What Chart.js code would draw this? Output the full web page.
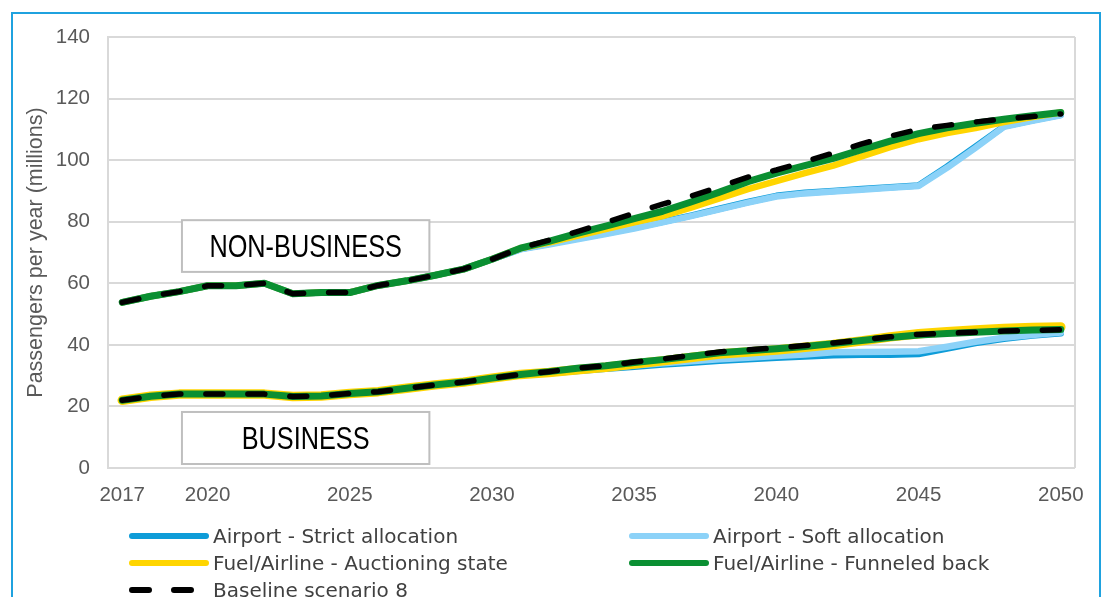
<!DOCTYPE html>
<html>
<head>
<meta charset="utf-8">
<script src="https://cdn.jsdelivr.net/npm/chart.js@4/dist/chart.umd.min.js"></script>
<style>
html,body{margin:0;padding:0;background:#fff;width:1108px;height:597px;overflow:hidden;}
#frame{position:absolute;left:11px;top:12px;width:1090px;height:640px;border:2px solid #1FA2DF;box-sizing:border-box;}
#wrap{position:absolute;left:0;top:0;width:1108px;height:597px;}
#legend{position:absolute;left:0;top:0;width:1108px;height:597px;pointer-events:none;font-family:"DejaVu Sans",sans-serif;font-size:20px;color:#404040;}
.item{position:absolute;display:flex;align-items:center;height:26px;white-space:nowrap;}
.item canvas{display:block;margin-right:4px;}
</style>
</head>
<body>
<div id="frame"></div>
<div id="wrap"><canvas id="c"></canvas></div>
<div id="legend"></div>
<script>
// ---------- DATA ----------
const years = [2017,2018,2019,2020,2021,2022,2023,2024,2025,2026,2027,2028,2029,2030,2031,2032,2033,2034,2035,2036,2037,2038,2039,2040,2041,2042,2043,2044,2045,2046,2047,2048,2049,2050];
const tickYears = [2017,2020,2025,2030,2035,2040,2045,2050];
const seriesNames = ["Airport - Strict allocation","Airport - Soft allocation","Fuel/Airline - Auctioning state","Fuel/Airline - Funneled back","Baseline scenario 8"];
const groupLabels = ["NON-BUSINESS","BUSINESS"];

// Non-business passengers (millions)
const nbStrict   = [53.8,55.8,57.3,59.2,59.2,60.0,56.6,57.0,57.0,59.3,60.8,62.6,64.6,67.8,71.1,72.8,74.5,76.2,78.0,80.0,82.0,84.2,86.4,88.4,89.4,90.0,90.6,91.2,91.8,97.9,104.4,111.0,112.9,114.7];
const nbSoft     = [53.8,55.8,57.3,59.2,59.2,60.0,56.6,57.0,57.0,59.3,60.8,62.6,64.6,67.8,71.0,72.6,74.3,76.0,77.8,79.8,81.8,84.0,86.2,88.2,89.2,89.8,90.4,91.0,91.6,97.5,104.0,110.8,112.8,114.6];
const nbAuction  = [53.8,55.8,57.3,59.2,59.2,60.0,56.6,57.0,57.0,59.3,60.8,62.6,64.6,67.8,71.4,73.2,75.4,77.6,79.8,81.8,84.6,87.6,90.6,93.2,95.8,98.2,101.2,104.2,106.8,108.8,110.4,112.4,114.0,115.5];
const nbFunnel   = [53.8,55.8,57.3,59.2,59.2,60.0,56.6,57.0,57.0,59.3,60.8,62.6,64.6,67.8,71.4,73.6,76.2,78.6,81.0,83.4,86.4,89.6,93.0,95.8,98.2,100.6,103.4,106.2,108.6,110.5,112.0,113.3,114.4,115.5];
const nbBaseline = [53.8,55.8,57.3,59.2,59.2,60.0,56.6,57.0,57.0,59.3,60.8,62.6,64.6,67.8,71.4,74.0,76.8,79.7,82.8,85.7,88.3,91.3,94.5,96.8,99.5,102.3,105.3,107.8,110.0,111.3,112.4,113.4,114.2,115.0];

// Business passengers (millions)
const bStrict    = [22.0,23.3,24.0,24.0,24.0,24.0,23.2,23.4,24.2,24.8,25.9,27.0,27.9,29.2,30.4,30.8,31.5,32.2,32.9,33.6,34.2,34.8,35.3,35.8,36.2,36.6,36.8,36.8,37.0,38.8,40.6,42.0,43.0,43.8];
const bSoft      = [22.0,23.3,24.0,24.0,24.0,24.0,23.2,23.4,24.2,24.8,25.9,27.0,27.9,29.2,30.4,31.0,31.8,32.5,33.3,34.0,34.7,35.3,35.8,36.4,36.9,37.6,37.7,37.8,37.9,39.4,41.0,42.3,43.2,44.0];
const bAuction   = [22.0,23.3,24.0,24.0,24.0,24.0,23.2,23.4,24.2,24.8,25.9,27.0,27.9,29.2,30.4,31.0,31.9,32.7,33.8,34.8,35.9,37.0,37.7,38.3,39.2,40.1,41.3,42.6,43.6,44.3,44.8,45.3,45.6,45.8];
const bFunnel    = [22.0,23.3,24.0,24.0,24.0,24.0,23.2,23.4,24.2,24.8,25.9,27.0,27.9,29.2,30.4,31.3,32.4,33.2,34.3,35.2,36.3,37.4,38.1,38.7,39.5,40.4,41.4,42.4,43.2,43.7,44.1,44.5,44.8,45.0];
const bBaseline  = [22.0,23.3,24.0,24.0,24.0,24.0,23.2,23.4,24.2,24.8,25.9,27.0,27.9,29.2,30.4,31.3,32.4,33.2,34.4,35.4,36.6,37.7,38.4,39.0,39.8,40.6,41.6,42.6,43.4,43.8,44.1,44.5,44.7,44.9];

// ---------- STYLES ----------
const colors = ["#0E9CD8","#8CD2F8","#FFD500","#0A8F32","#000000"];
const widthsNB = [6.5,6.5,6.5,7,5.5];
const widthsB  = [6.5,6.5,9.5,7,5.5];
const drawOrder = [4,3,2,1,0];
const dashes = [[],[],[],[],[17,25]];

const nbSeries = [nbStrict,nbSoft,nbAuction,nbFunnel,nbBaseline];
const bSeries  = [bStrict,bSoft,bAuction,bFunnel,bBaseline];

function makeDs(arr, idx, widths, group){
  return {
    label: seriesNames[idx],
    group: group,
    data: arr,
    borderColor: colors[idx],
    backgroundColor: colors[idx],
    borderWidth: widths[idx],
    borderDash: dashes[idx],
    borderCapStyle: 'round',
    borderJoinStyle: 'round',
    pointRadius: 0,
    pointHoverRadius: 0,
    tension: 0,
    fill: false,
    order: drawOrder[idx]
  };
}
const datasets = [];
nbSeries.forEach((s,i)=>datasets.push(makeDs(s,i,widthsNB,0)));
bSeries.forEach((s,i)=>datasets.push(makeDs(s,i,widthsB,1)));

const gridGrey = "#D9D9D9";
const tickGrey = "#595959";

// annotation boxes (in axis units: category index / value)
const boxPlugin = {
  id:'groupBoxes',
  beforeDatasetsDraw(chart, args, opts){
    const {ctx, scales:{x,y}} = chart;
    opts.boxes.forEach(b=>{
      const x0 = x.getPixelForValue(b.x0), x1 = x.getPixelForValue(b.x1);
      const y0 = y.getPixelForValue(b.y1), y1 = y.getPixelForValue(b.y0);
      ctx.save();
      ctx.fillStyle = '#fff';
      ctx.fillRect(x0,y0,x1-x0,y1-y0);
      ctx.strokeStyle = '#BFBFBF';
      ctx.lineWidth = 2;
      ctx.strokeRect(x0,y0,x1-x0,y1-y0);
      ctx.translate((x0+x1)/2,(y0+y1)/2 + 2);
      ctx.scale(0.79,1);
      ctx.font = '32px "Liberation Sans", Arial, sans-serif';
      ctx.fillStyle = '#000';
      ctx.textAlign = 'center';
      ctx.textBaseline = 'middle';
      ctx.fillText(b.text,0,0);
      ctx.restore();
    });
  }
};
const frameLine = {
  id:'rightBorder',
  beforeDatasetsDraw(chart){
    const {ctx, chartArea:a} = chart;
    ctx.save();
    ctx.strokeStyle = gridGrey; ctx.lineWidth = 2;
    ctx.beginPath(); ctx.moveTo(a.right, a.top); ctx.lineTo(a.right, a.bottom); ctx.stroke();
    ctx.restore();
  }
};

const chart = new Chart(document.getElementById('c'), {
  type:'line',
  data:{ labels: years.map(String), datasets },
  options:{
    responsive:true,
    maintainAspectRatio:false,
    animation:false,
    events:[],
    layout:{padding:{left:12,top:37,right:33,bottom:89}},
    plugins:{
      legend:{display:false},
      tooltip:{enabled:false},
      groupBoxes:{boxes:[
        {text:groupLabels[0], x0:2.1, x1:10.8, y0:63.7, y1:80.5},
        {text:groupLabels[1], x0:2.1, x1:10.8, y0:1.3, y1:18.2}
      ]}
    },
    scales:{
      x:{
        type:'category',
        offset:true,
        grid:{display:false, drawTicks:false},
        border:{display:false},
        afterFit(s){ s.height = 40; },
        ticks:{
          autoSkip:false, maxRotation:0, padding:15,
          color:tickGrey,
          font:{family:'"Liberation Sans", Arial, sans-serif', size:20.5},
          callback(v,i){ return tickYears.includes(years[i]) ? String(years[i]) : null; }
        }
      },
      y:{
        min:0, max:140,
        afterFit(s){ s.width = 96; },
        grid:{color:gridGrey, lineWidth:2, drawTicks:false},
        border:{display:true, color:gridGrey, width:2},
        ticks:{stepSize:20, padding:18, color:tickGrey,
          font:{family:'"Liberation Sans", Arial, sans-serif', size:20.5}},
        title:{display:true, text:'Passengers per year (millions)', color:tickGrey,
          padding:{top:11,bottom:0},
          font:{family:'"Liberation Sans", Arial, sans-serif', size:21.5}}
      }
    }
  },
  plugins:[boxPlugin, frameLine]
});

// ---------- HTML legend built from series definitions ----------
const legendEl = document.getElementById('legend');
seriesNames.forEach((name,i)=>{
  const item = document.createElement('div');
  item.className = 'item';
  item.style.left = (i%2 ? 629 : 129) + 'px';
  item.style.top = (523 + Math.floor(i/2)*27) + 'px';
  const c = document.createElement('canvas');
  c.width = 80; c.height = 12;
  const g = c.getContext('2d');
  g.strokeStyle = colors[i]; g.lineWidth = 6; g.lineCap = 'round';
  g.setLineDash(dashes[i]);
  g.beginPath(); g.moveTo(3,6); g.lineTo(77,6); g.stroke();
  const t = document.createElement('span');
  t.textContent = name;
  item.appendChild(c); item.appendChild(t);
  legendEl.appendChild(item);
});
</script>
</body>
</html>
